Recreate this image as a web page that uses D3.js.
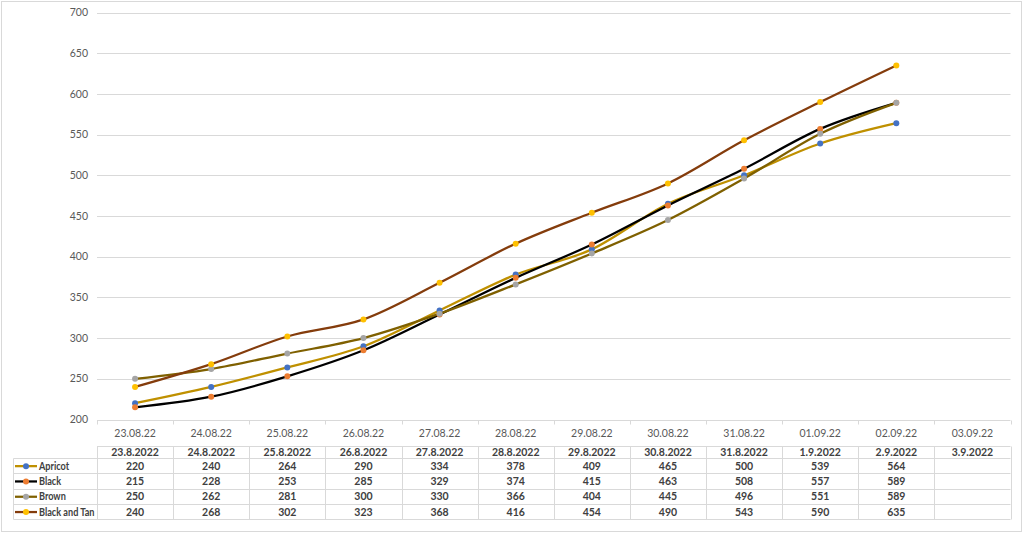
<!DOCTYPE html>
<html lang="en">
<head>
<meta charset="utf-8">
<title>Dog weights</title>
<script src="https://cdn.jsdelivr.net/npm/d3@7"></script>
<style>
  body { margin: 0; background: #fff; }
  text { font-family: Lato, "Liberation Sans", sans-serif; }
</style>
</head>
<body>
<script>
// categories (axis labels and table header labels)
var axisDates = ["23.08.22", "24.08.22", "25.08.22", "26.08.22", "27.08.22", "28.08.22",
                 "29.08.22", "30.08.22", "31.08.22", "01.09.22", "02.09.22", "03.09.22"];
var tableDates = ["23.8.2022", "24.8.2022", "25.8.2022", "26.8.2022", "27.8.2022", "28.8.2022",
                  "29.8.2022", "30.8.2022", "31.8.2022", "1.9.2022", "2.9.2022", "3.9.2022"];
var yTicks = [200, 250, 300, 350, 400, 450, 500, 550, 600, 650, 700];

// series values (last date has no value)
var seriesNames = ["Apricot", "Black", "Brown", "Black and Tan"];
var apricot = [220, 240, 264, 290, 334, 378, 409, 465, 500, 539, 564];
var black = [215, 228, 253, 285, 329, 374, 415, 463, 508, 557, 589];
var brown = [250, 262, 281, 300, 330, 366, 404, 445, 496, 551, 589];
var blackTan = [240, 268, 302, 323, 368, 416, 454, 490, 543, 590, 635];

var lineColors = ["#BF9000", "#000000", "#7F6000", "#843C0C"];
var dotColors = ["#4472C4", "#ED7D31", "#A5A5A5", "#FFC000"];

var series = [apricot, black, brown, blackTan].map(function(vals, i) {
  return { name: seriesNames[i], values: vals, line: lineColors[i], dot: dotColors[i] };
});

var W = 1024, H = 533;
var svg = d3.select("body").append("svg").attr("width", W).attr("height", H);

// outer chart border
svg.append("rect").attr("x", 1.5).attr("y", 1.5).attr("width", W - 4).attr("height", H - 3)
  .attr("fill", "#fff").attr("stroke", "#d9d9d9");

var x = d3.scaleBand().domain(axisDates).range([97, 1010.5]);
var y = d3.scaleLinear().domain([200, 700]).range([419.5, 12.5]);

// gridlines
svg.append("g").selectAll("line").data(yTicks.slice(1)).enter().append("line")
  .attr("x1", 97).attr("x2", 1010.5)
  .attr("y1", function(d) { return Math.round(y(d)) + 0.5; })
  .attr("y2", function(d) { return Math.round(y(d)) + 0.5; })
  .attr("stroke", "#d9d9d9").attr("stroke-width", 1);

// y labels
svg.append("g").selectAll("text").data(yTicks).enter().append("text")
  .attr("x", 88).attr("y", function(d) { return y(d); })
  .attr("dy", "0.35em").attr("text-anchor", "end")
  .attr("font-size", 10.5).attr("fill", "#595959")
  .text(function(d) { return d; });

// x axis line + ticks
var axisY = Math.round(y(200)) + 0.5;
svg.append("line").attr("x1", 97).attr("x2", 1010.5).attr("y1", axisY).attr("y2", axisY)
  .attr("stroke", "#d9d9d9");
var bounds = axisDates.map(function(d) { return x(d); }).concat([x.range()[1]]);
svg.append("g").selectAll("line").data(bounds).enter().append("line")
  .attr("x1", function(d) { return Math.round(d) + 0.5; })
  .attr("x2", function(d) { return Math.round(d) + 0.5; })
  .attr("y1", axisY).attr("y2", axisY + 4)
  .attr("stroke", "#d9d9d9");

svg.append("g").selectAll("text").data(axisDates).enter().append("text")
  .attr("x", function(d) { return x(d) + x.bandwidth() / 2; })
  .attr("y", 433).attr("dy", "0.35em").attr("text-anchor", "middle")
  .attr("font-size", 10.5).attr("fill", "#595959")
  .text(function(d) { return d; });

// lines
var line = d3.line()
  .x(function(d, i) { return x(axisDates[i]) + x.bandwidth() / 2; })
  .y(function(d) { return y(d); })
  .curve(d3.curveCatmullRom.alpha(0));

var lg = svg.append("g");
lg.selectAll("path").data(series).enter().append("path")
  .attr("d", function(s) { return line(s.values); })
  .attr("fill", "none").attr("stroke", function(s) { return s.line; })
  .attr("stroke-width", 2.25).attr("stroke-linejoin", "round").attr("stroke-linecap", "round");

series.forEach(function(s) {
  lg.append("g").selectAll("circle").data(s.values).enter().append("circle")
    .attr("cx", function(d, i) { return x(axisDates[i]) + x.bandwidth() / 2; })
    .attr("cy", function(d) { return y(d); })
    .attr("r", 3).attr("fill", s.dot);
});

// data table
var headTop = 446.5, rowTop = 458, rowH = 15.3, tableLeft = 13.5, right = 1010.5;
var tbl = svg.append("g");
var border = "#d9d9d9";
var tableBottom = rowTop + rowH * 4;

// horizontal lines
tbl.append("line").attr("x1", 97).attr("x2", right).attr("y1", headTop).attr("y2", headTop).attr("stroke", border);
d3.range(5).forEach(function(i) {
  var yy = Math.round(rowTop + rowH * i) + 0.5;
  tbl.append("line").attr("x1", tableLeft).attr("x2", right).attr("y1", yy).attr("y2", yy).attr("stroke", border);
});
// vertical lines
bounds.forEach(function(b) {
  tbl.append("line").attr("x1", Math.round(b) + 0.5).attr("x2", Math.round(b) + 0.5)
    .attr("y1", headTop).attr("y2", Math.round(tableBottom) + 0.5).attr("stroke", border);
});
tbl.append("line").attr("x1", tableLeft).attr("x2", tableLeft)
  .attr("y1", Math.round(rowTop) + 0.5).attr("y2", Math.round(tableBottom) + 0.5).attr("stroke", border);

// header
tbl.selectAll("text.hd").data(tableDates).enter().append("text").attr("class", "hd")
  .attr("x", function(d, i) { return x(axisDates[i]) + x.bandwidth() / 2; })
  .attr("y", (headTop + rowTop) / 2 + 0.5).attr("dy", "0.35em").attr("text-anchor", "middle")
  .attr("font-size", 10.5).attr("font-weight", "bold").attr("fill", "#404040")
  .text(function(d) { return d; });

series.forEach(function(s, r) {
  var cy = rowTop + rowH * r + rowH / 2 + 0.5;
  // legend key
  tbl.append("line").attr("x1", 15).attr("x2", 37).attr("y1", cy).attr("y2", cy)
    .attr("stroke", s.line).attr("stroke-width", 2.25);
  tbl.append("circle").attr("cx", 26).attr("cy", cy).attr("r", 3).attr("fill", s.dot);
  var lbl = tbl.append("text").attr("x", 39).attr("y", cy).attr("dy", "0.35em")
    .attr("font-size", 10.5).attr("font-weight", "bold").attr("fill", "#404040")
    .text(s.name);
  // keep the name inside the legend column (Calibri is narrower than Lato)
  var w = lbl.node().getComputedTextLength();
  lbl.attr("textLength", w * 0.87).attr("lengthAdjust", "spacingAndGlyphs");
  tbl.append("g").selectAll("text").data(s.values).enter().append("text")
    .attr("x", function(d, i) { return x(axisDates[i]) + x.bandwidth() / 2; })
    .attr("y", cy).attr("dy", "0.35em").attr("text-anchor", "middle")
    .attr("font-size", 10.5).attr("font-weight", "bold").attr("fill", "#404040")
    .text(function(d) { return d; });
});
</script>
</body>
</html>
